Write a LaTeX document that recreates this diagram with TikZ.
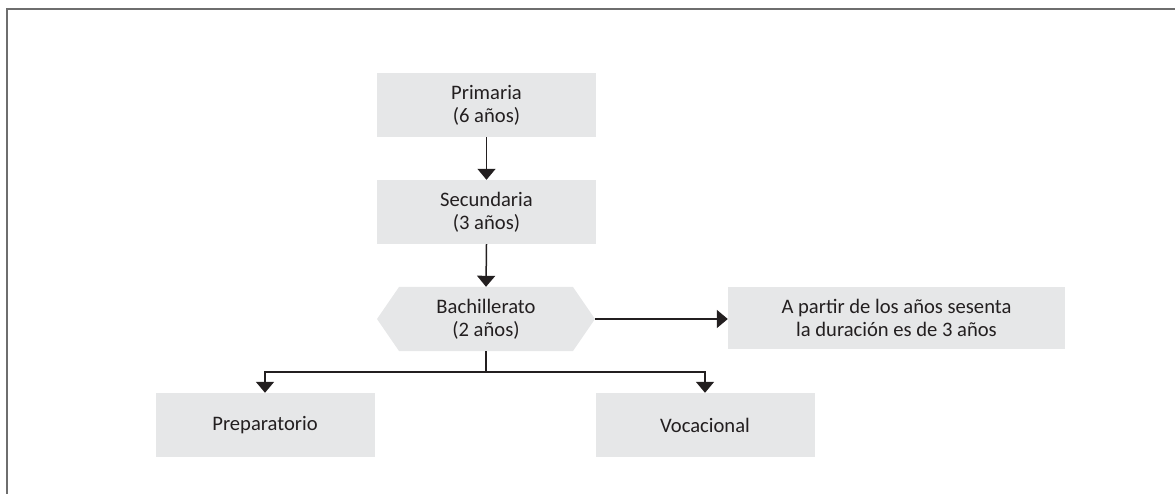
\documentclass[tikz,border=0pt]{standalone}
\usepackage{fontspec}
\setmainfont{Carlito}
\usetikzlibrary{arrows.meta}
\definecolor{boxfill}{HTML}{E6E7E8}
\definecolor{ink}{HTML}{231F20}
\definecolor{framegray}{HTML}{6E6E6E}
\begin{document}
\begin{tikzpicture}[x=1pt,y=-1pt,
  every node/.style={font=\fontsize{20.6pt}{23pt}\selectfont, text=ink, align=center, inner sep=0pt},
  stepbox/.style={fill=boxfill, minimum width=219pt, minimum height=64pt},
  notebox/.style={fill=boxfill, minimum width=337pt, minimum height=62pt},
  arr/.style={draw=ink, line width=1.5pt, -{Triangle[width=18pt,length=11pt]}},
  link/.style={draw=ink, line width=1.5pt}]
  \useasboundingbox (0,0) rectangle (1175,494);
  % frame
  \draw[framegray, line width=2pt] (7,494) -- (7,9.5) -- (1175,9.5);

  % hexagonal background for the Bachillerato step
  \fill[boxfill] (377,319) -- (399,287) -- (573,287) -- (595,319) -- (573,351) -- (399,351) -- cycle;

  \node[stepbox] (prim) at (486.5,105) {Primaria\\(6 años)};
  \node[stepbox] (sec)  at (486.5,212) {Secundaria\\(3 años)};
  \node[minimum width=218pt, minimum height=64pt] (bach) at (486,319) {Bachillerato\\(2 años)};
  \node[notebox] (note) at (896.5,318) {A partir de los años sesenta\\la duración es de 3 años};
  \node[stepbox] (prep) at (265,425) {Preparatorio};
  \node[stepbox] (voc)  at (705,425) {Vocacional};

  \coordinate (j) at (486,372);

  \draw[arr] (prim.south) -- (sec.north);
  \draw[arr] (sec.south) -- (bach.north);
  \draw[arr] (bach.east) -- (note.west |- bach.east);
  \draw[link] (bach.south) -- (j);
  \draw[arr] (j) -| (prep.north);
  \draw[arr] (j) -| (voc.north);
\end{tikzpicture}
\end{document}
